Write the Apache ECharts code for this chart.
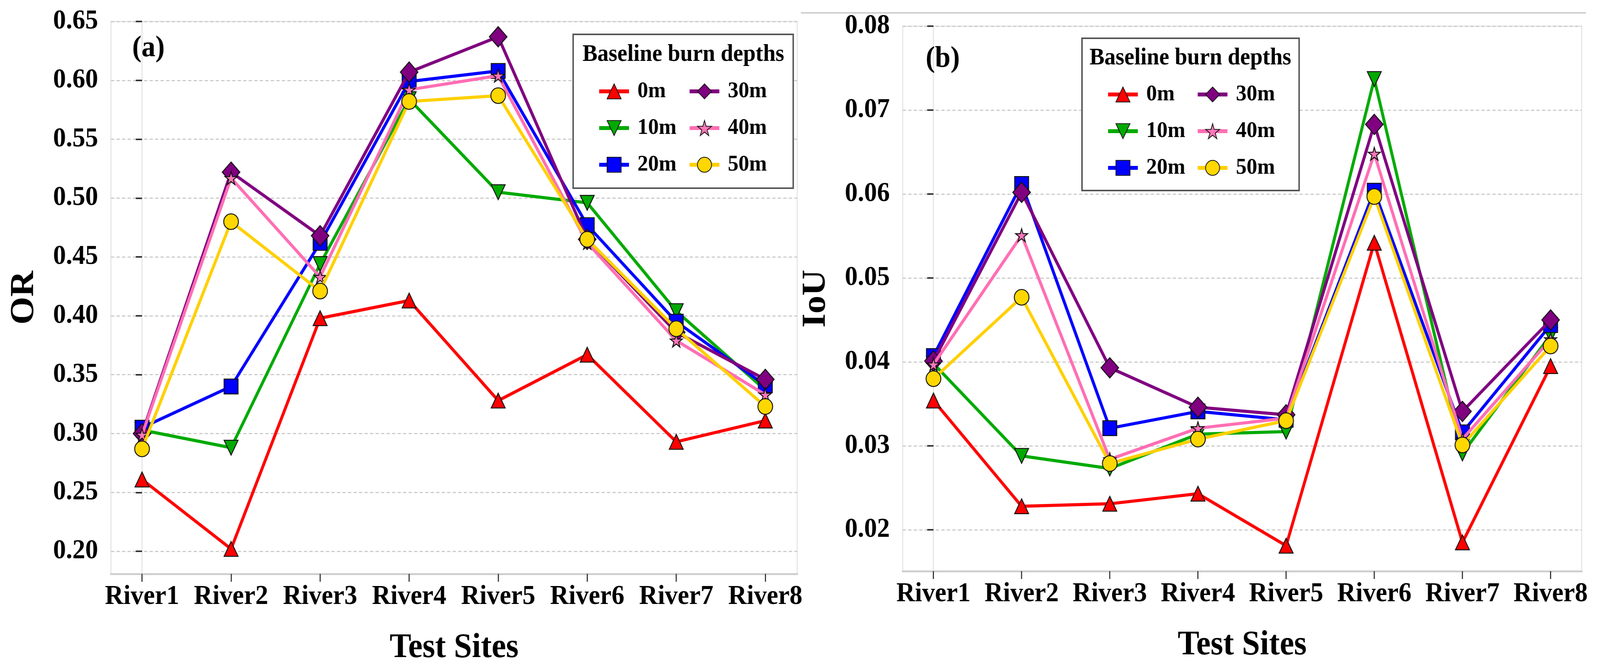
<!DOCTYPE html>
<html>
<head>
<meta charset="utf-8">
<title>Baseline burn depths</title>
<script src="https://cdn.jsdelivr.net/npm/echarts@6/dist/echarts.min.js"></script>
<style>
  html, body { margin: 0; padding: 0; background: #fff; overflow: hidden; }
  #chart { width: 4355px; height: 1711px; transform-origin: 0 0; }
</style>
</head>
<body>
<div id="chart"></div>
<script>
// test sites and tick labels
var sites = ['River1', 'River2', 'River3', 'River4', 'River5', 'River6', 'River7', 'River8'];
var depths = ['0m', '10m', '20m', '30m', '40m', '50m'];
var orTicks = [0.20, 0.25, 0.30, 0.35, 0.40, 0.45, 0.50, 0.55, 0.60, 0.65];
var iouTicks = [0.02, 0.03, 0.04, 0.05, 0.06, 0.07, 0.08];

// (a) OR values
var or0m  = [0.261, 0.202, 0.398, 0.413, 0.328, 0.367, 0.293, 0.311];
var or10m = [0.303, 0.288, 0.444, 0.584, 0.505, 0.496, 0.404, 0.337];
var or20m = [0.305, 0.340, 0.462, 0.599, 0.608, 0.477, 0.395, 0.341];
var or30m = [0.300, 0.522, 0.468, 0.607, 0.637, 0.465, 0.386, 0.346];
var or40m = [0.299, 0.517, 0.433, 0.592, 0.604, 0.462, 0.379, 0.333];
var or50m = [0.287, 0.480, 0.421, 0.582, 0.587, 0.465, 0.389, 0.323];

// (b) IoU values
var iou0m  = [0.0354, 0.0228, 0.0231, 0.0243, 0.0181, 0.0542, 0.0185, 0.0395];
var iou10m = [0.0398, 0.0288, 0.0273, 0.0314, 0.0317, 0.0737, 0.0291, 0.0432];
var iou20m = [0.0407, 0.0612, 0.0321, 0.0341, 0.0331, 0.0604, 0.0316, 0.0444];
var iou30m = [0.0401, 0.0602, 0.0393, 0.0346, 0.0337, 0.0683, 0.0341, 0.0450];
var iou40m = [0.0397, 0.0551, 0.0284, 0.0321, 0.0333, 0.0648, 0.0308, 0.0427];
var iou50m = [0.0380, 0.0477, 0.0279, 0.0308, 0.0330, 0.0597, 0.0301, 0.0419];

var FONT = 'Liberation Serif, Times New Roman, serif';
var STAR = 'path://M50,0 L61,35 L98,35 L68,57 L79,91 L50,70 L21,91 L32,57 L2,35 L39,35 Z';
var DOWN = 'path://M0,0 L100,0 L50,100 Z';

// look of each depth
var styles = [
  { line: '#ff0000', fill: '#ff0000', symbol: 'triangle', size: 38 },
  { line: '#00aa00', fill: '#00aa00', symbol: DOWN, size: 38 },
  { line: '#0000ff', fill: '#0000ff', symbol: 'rect', size: 38 },
  { line: '#800080', fill: '#800080', symbol: 'diamond', size: [48, 52] },
  { line: '#ff6eb4', fill: '#ff77bb', symbol: STAR, size: 33 },
  { line: '#ffd000', fill: '#ffd700', symbol: 'circle', size: 40 }
];

var orData = [or0m, or10m, or20m, or30m, or40m, or50m];
var iouData = [iou0m, iou10m, iou20m, iou30m, iou40m, iou50m];

function pairs(arr) {
  return arr.map(function (v, i) { return [i, v]; });
}

function makeSeries(values, axis) {
  return values.map(function (arr, k) {
    var s = styles[k];
    return {
      name: depths[k],
      type: 'line',
      xAxisIndex: axis,
      yAxisIndex: axis,
      data: pairs(arr),
      symbol: s.symbol,
      symbolSize: s.size,
      lineStyle: { color: s.line, width: 8 },
      itemStyle: { color: s.fill, borderColor: '#111', borderWidth: 2.5 },
      z: 2 + k
    };
  });
}

function xAxis(idx, min, max) {
  return {
    type: 'value',
    gridIndex: idx,
    min: min,
    max: max,
    name: 'Test Sites',
    nameLocation: 'middle',
    nameGap: 146,
    nameTextStyle: { fontSize: 88, fontWeight: 'bold', fontFamily: FONT, color: '#000' },
    axisLine: { show: true, lineStyle: { color: '#cfcfcf', width: 5 } },
    axisTick: { show: true, length: 20, customValues: [0, 1, 2, 3, 4, 5, 6, 7],
      lineStyle: { color: '#333', width: 3 } },
    axisLabel: { customValues: [0, 1, 2, 3, 4, 5, 6, 7], margin: 24,
      fontSize: 70, fontWeight: 'bold', fontFamily: FONT, color: '#000',
      formatter: function (v) { return sites[Math.round(v)]; } },
    splitLine: { show: false }
  };
}

function yAxis(idx, name, min, max, ticks, gap) {
  return {
    type: 'value',
    gridIndex: idx,
    min: min,
    max: max,
    name: name,
    nameLocation: 'middle',
    nameGap: gap,
    nameTextStyle: { fontSize: 92, fontWeight: 'bold', fontFamily: FONT, color: '#000' },
    axisLine: { show: true, lineStyle: { color: '#e6e6e6', width: 3 } },
    axisTick: { show: true, length: 17, customValues: ticks,
      lineStyle: { color: '#333', width: 4 } },
    axisLabel: { customValues: ticks, margin: 35,
      fontSize: 70, fontWeight: 'bold', fontFamily: FONT, color: '#000',
      formatter: function (v) { return v.toFixed(2); } },
    splitLine: { show: true, lineStyle: { color: '#cccccc', width: 3, type: [9, 6] } }
  };
}

function legend(names, left, top) {
  return {
    orient: 'vertical',
    left: left,
    top: top,
    padding: 0,
    data: names,
    itemWidth: 81,
    itemHeight: 48,
    itemGap: 36,
    z: 8,
    lineStyle: { width: 10 },
    textStyle: { fontSize: 58, fontWeight: 'bold', fontFamily: FONT, color: '#000',
      padding: [0, 0, 0, 18] }
  };
}

function legendBox(x, y, w, h, tx, ty) {
  return [{
    type: 'rect', z: 7,
    shape: { x: x, y: y, width: w, height: h },
    style: { fill: '#fff', stroke: '#555', lineWidth: 4 }
  }, {
    type: 'text', z: 8, x: tx, y: ty,
    style: { text: 'Baseline burn depths', fontSize: 61, fontWeight: 'bold', fontFamily: FONT,
      fill: '#000', align: 'center', verticalAlign: 'middle' }
  }];
}

// the window may not be 4355x1711, so stretch the drawing to fill it
var box = document.getElementById('chart');
var sx = window.innerWidth / 4355;
var sy = window.innerHeight / 1711;
if (sx > 0 && sy > 0 && (Math.abs(sx - 1) > 0.001 || Math.abs(sy - 1) > 0.001)) {
  box.style.transform = 'scale(' + sx + ',' + sy + ')';
}

var chart = echarts.init(box);

var option = {
  backgroundColor: '#fff',
  animation: false,
  grid: [
    { left: 302, top: 55, width: 1868, height: 1415, show: true, borderColor: '#e6e6e6', borderWidth: 3 },
    { left: 2457, top: 67, width: 1848, height: 1396, show: true, borderColor: '#e6e6e6', borderWidth: 3 }
  ],
  xAxis: [xAxis(0, -0.349, 7.359), xAxis(1, -0.349, 7.352)],
  yAxis: [
    yAxis(0, 'OR', 0.1808, 0.65, orTicks, 190),
    yAxis(1, 'IoU', 0.01507, 0.08, iouTicks, 190)
  ],
  legend: [
    legend(depths.slice(0, 3), 1626, 205),
    legend(depths.slice(3), 1872, 205),
    legend(depths.slice(0, 3), 3011, 213),
    legend(depths.slice(3), 3255, 213)
  ],
  graphic: [
    { type: 'line', z: 1, shape: { x1: 2180, y1: 33, x2: 4317, y2: 33 },
      style: { stroke: '#d0d0d0', lineWidth: 4 } },
    { type: 'text', z: 8, x: 404, y: 124,
      style: { text: '(a)', fontSize: 76, fontWeight: 'bold', fontFamily: FONT, fill: '#000',
        align: 'center', verticalAlign: 'middle' } },
    { type: 'text', z: 8, x: 2566, y: 151,
      style: { text: '(b)', fontSize: 76, fontWeight: 'bold', fontFamily: FONT, fill: '#000',
        align: 'center', verticalAlign: 'middle' } }
  ].concat(legendBox(1560, 88, 599, 394, 1860, 140))
   .concat(legendBox(2945, 98, 591, 390, 3240, 149)),
  series: makeSeries(orData, 0).concat(makeSeries(iouData, 1))
};

chart.setOption(option);
</script>
</body>
</html>
